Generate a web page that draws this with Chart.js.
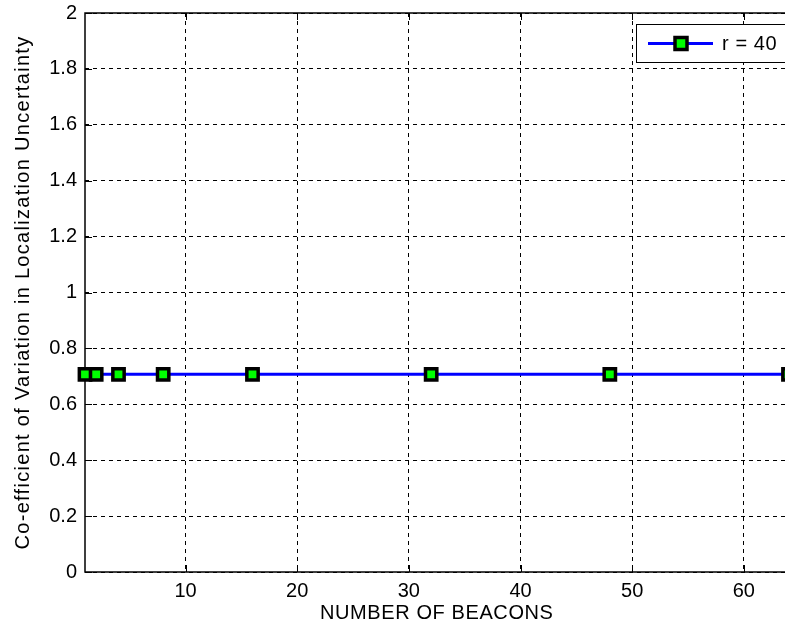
<!DOCTYPE html>
<html>
<head>
<meta charset="utf-8">
<script src="https://cdn.jsdelivr.net/npm/chart.js@4/dist/chart.umd.min.js"></script>
<style>
  html, body { margin: 0; padding: 0; overflow: hidden; background: #fff; }
  canvas { display: block; }
</style>
</head>
<body>
<canvas id="chart" width="800" height="630"></canvas>
<script>
// beacons vs coefficient of variation
const beacons = [1, 2, 4, 8, 16, 32, 48, 64];
const covValues = [0.7071, 0.7071, 0.7071, 0.7071, 0.7071, 0.7071, 0.7071, 0.7071];
const seriesLabel = 'r = 40';
const xTicks = [10, 20, 30, 40, 50, 60];
const yTicks = [0, 0.2, 0.4, 0.6, 0.8, 1, 1.2, 1.4, 1.6, 1.8, 2];

const FONT = 'Liberation Sans';

// MATLAB style box + inward tick marks, drawn over the grid
const axesBox = {
    id: 'axesBox',
    beforeDatasetsDraw(chart) {
        const { ctx, chartArea: a, scales } = chart;
        ctx.save();
        ctx.setLineDash([]);
        ctx.strokeStyle = '#000';
        ctx.lineWidth = 1;
        ctx.beginPath();
        xTicks.forEach(v => {
            const x = Math.round(scales.x.getPixelForValue(v)) + 0.5;
            ctx.moveTo(x, a.bottom); ctx.lineTo(x, a.bottom - 7);
            ctx.moveTo(x, a.top); ctx.lineTo(x, a.top + 7);
        });
        yTicks.forEach(v => {
            const y = Math.round(scales.y.getPixelForValue(v)) + 0.5;
            ctx.moveTo(a.left, y); ctx.lineTo(a.left + 7, y);
        });
        ctx.stroke();
        ctx.lineWidth = 1.5;
        ctx.strokeRect(a.left, a.top, a.right - a.left, a.bottom - a.top);
        ctx.restore();
    }
};

// legend box in the upper right corner
const boxLegend = {
    id: 'boxLegend',
    afterDatasetsDraw(chart) {
        const { ctx } = chart;
        const ds = chart.data.datasets[0];
        ctx.save();
        ctx.setLineDash([]);
        ctx.fillStyle = '#fff';
        ctx.fillRect(636, 24, 170, 38);
        ctx.strokeStyle = '#000';
        ctx.lineWidth = 1;
        ctx.strokeRect(636.5, 24.5, 170, 38);
        ctx.strokeStyle = ds.borderColor;
        ctx.lineWidth = ds.borderWidth;
        ctx.beginPath();
        ctx.moveTo(648, 43.5); ctx.lineTo(713, 43.5);
        ctx.stroke();
        ctx.fillStyle = ds.pointBackgroundColor;
        ctx.strokeStyle = ds.pointBorderColor;
        ctx.lineWidth = ds.pointBorderWidth;
        ctx.fillRect(675, 37.5, 12, 12);
        ctx.strokeRect(675, 37.5, 12, 12);
        ctx.fillStyle = '#000';
        ctx.font = '20px "' + FONT + '"';
        ctx.textBaseline = 'middle';
        ctx.letterSpacing = '0.6px';
        ctx.fillText(ds.label, 722, 44);
        ctx.restore();
    }
};

// wider spacing for the axis titles (MATLAB text is spread out)
const titleSpacing = {
    id: 'titleSpacing',
    afterLayout(chart) {
        [['x', '0.6px'], ['y', '1.3px']].forEach(([id, sp]) => {
            const s = chart.scales[id];
            if (!s || s._spaced) return;
            const orig = s.drawTitle.bind(s);
            s.drawTitle = function () {
                this.ctx.save();
                this.ctx.letterSpacing = sp;
                orig();
                this.ctx.restore();
            };
            s._spaced = true;
        });
    }
};

new Chart(document.getElementById('chart'), {
    type: 'line',
    data: {
        datasets: [{
            label: seriesLabel,
            data: beacons.map((b, i) => ({ x: b, y: covValues[i] })),
            borderColor: '#0000ff',
            borderWidth: 3,
            pointStyle: 'rect',
            pointRadius: 8,
            pointBorderWidth: 3.5,
            pointBackgroundColor: '#00ff00',
            pointBorderColor: '#000',
            clip: false,
            tension: 0
        }]
    },
    options: {
        responsive: false,
        animation: false,
        layout: { padding: { left: 0, top: 13, right: 7, bottom: 0 } },
        plugins: {
            legend: { display: false },
            tooltip: { enabled: false }
        },
        scales: {
            x: {
                type: 'linear',
                min: 1,
                max: 64,
                afterBuildTicks: s => { s.ticks = xTicks.map(v => ({ value: v })); },
                afterFit: s => { s.height = 58; s.paddingLeft = 0; s.paddingRight = 0; },
                grid: { color: '#000', lineWidth: 1, drawTicks: false },
                border: { display: false, dash: [4, 4] },
                ticks: { color: '#000', padding: 7, maxRotation: 0, font: { family: FONT, size: 20 } },
                title: {
                    display: true,
                    text: 'NUMBER OF BEACONS',
                    color: '#000',
                    font: { family: FONT, size: 20 },
                    padding: { top: 0, bottom: 5 }
                }
            },
            y: {
                min: 0,
                max: 2,
                afterBuildTicks: s => { s.ticks = yTicks.map(v => ({ value: v })); },
                afterFit: s => { s.width = 85; s.paddingTop = 0; s.paddingBottom = 0; },
                grid: { color: '#000', lineWidth: 1, drawTicks: false },
                border: { display: false, dash: [4, 4] },
                ticks: {
                    color: '#000',
                    padding: 8,
                    font: { family: FONT, size: 20 },
                    callback: v => String(Number(v.toFixed(1)))
                },
                title: {
                    display: true,
                    text: 'Co-efficient of Variation in Localization Uncertainty',
                    color: '#000',
                    font: { family: FONT, size: 20 },
                    padding: { top: 11, bottom: 0 }
                }
            }
        }
    },
    plugins: [axesBox, boxLegend, titleSpacing]
});
</script>
</body>
</html>
